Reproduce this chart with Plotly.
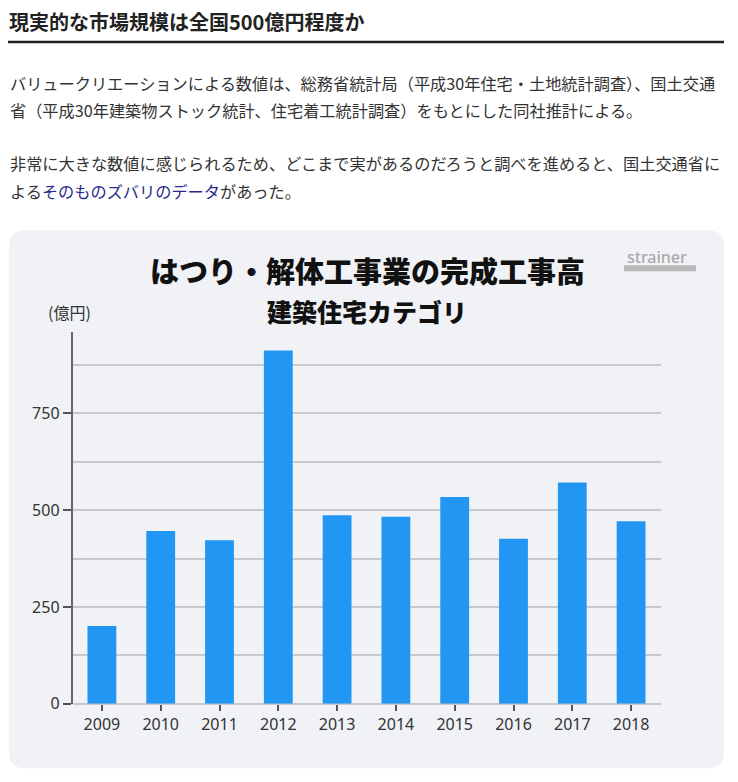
import plotly.graph_objects as go

# the page body adds an 8px margin round the figure; coordinates below are
# page pixels, mapped through px()/py()
OFF = 8
W, H = 738 - OFF, 774
VSCALE = 0.984  # the photographed page comes out slightly squeezed vertically

years = ["2009", "2010", "2011", "2012", "2013", "2014", "2015", "2016", "2017", "2018"]
values = [201, 446, 422, 912, 487, 483, 534, 426, 571, 471]
y_ticks = [0, 250, 500, 750]

heading = "現実的な市場規模は全国500億円程度か"
para_lines = [
    "バリュークリエーションによる数値は、総務省統計局（平成30年住宅・土地統計調査）、国土交通",
    "省（平成30年建築物ストック統計、住宅着工統計調査）をもとにした同社推計による。",
    "非常に大きな数値に感じられるため、どこまで実があるのだろうと調べを進めると、国土交通省に",
    "よる<span style='color:#2a2a8c'>そのものズバリのデータ</span>があった。",
]
chart_title = "はつり・解体工事業の完成工事高"
chart_subtitle = "建築住宅カテゴリ"
unit_label = "(億円)"


def px(x):
    return (x - OFF) / W


def py(y):
    return 1 - ((y - 0.3) / VSCALE - OFF) / H


def rounded_rect(x0, y0, x1, y1, r):
    rx, ry = r / W, r / H
    a, b, c, d = px(x0), py(y0), px(x1), py(y1)
    return (
        f"M {a + rx},{b} L {c - rx},{b} Q {c},{b} {c},{b - ry} "
        f"L {c},{d + ry} Q {c},{d} {c - rx},{d} "
        f"L {a + rx},{d} Q {a},{d} {a},{d + ry} "
        f"L {a},{b - ry} Q {a},{b} {a + rx},{b} Z"
    )


jp = "Noto Sans CJK JP"

fig = go.Figure(
    go.Bar(x=years, y=values, marker_color="#2196f3", marker_line_width=0, hoverinfo="x+y")
)

shapes = [
    # chart card
    dict(type="path", xref="paper", yref="paper", path=rounded_rect(9, 230, 724, 767, 16),
         fillcolor="#f0f2f6", line_width=0, layer="below"),
    # heading underline
    dict(type="line", xref="paper", yref="paper", x0=px(8), x1=px(724), y0=py(42), y1=py(42),
         line=dict(color="#222222", width=2.5)),
    # strainer logo bar
    dict(type="rect", xref="paper", yref="paper", x0=px(624), x1=px(696), y0=py(271), y1=py(265),
         fillcolor="#b8b8b8", line_width=0),
]

annotations = [
    dict(text=heading, x=0, y=py(22), xanchor="left", yanchor="middle", borderpad=0,
         font=dict(family=jp, size=20, color="#222222", weight=700)),
    dict(text="strainer", x=px(657), y=py(257), xanchor="center", yanchor="middle",
         font=dict(family="Noto Sans", size=16, color="#a9a9a9", weight=500)),
    dict(text=chart_title, x=px(367), y=py(270), xanchor="center", yanchor="middle",
         font=dict(family=jp, size=29, color="#111111", weight=900)),
    dict(text=chart_subtitle, x=px(367), y=py(311), xanchor="center", yanchor="middle",
         font=dict(family=jp, size=25, color="#111111", weight=900)),
    dict(text=unit_label, x=px(69), y=py(312), xanchor="center", yanchor="middle",
         font=dict(family=jp, size=16, color="#333333")),
]
for line, yc in zip(para_lines, [83, 110, 163, 191]):
    annotations.append(
        dict(text=line, x=0, y=py(yc), xanchor="left", yanchor="middle",
             font=dict(family=jp, size=16.2, color="#333333"))
    )
for a in annotations:
    a.update(xref="paper", yref="paper", showarrow=False)

fig.update_layout(
    width=W, height=H,
    margin=dict(l=0, r=0, t=0, b=0),
    paper_bgcolor="white",
    plot_bgcolor="rgba(0,0,0,0)",
    showlegend=False,
    bargap=0.51,
    shapes=shapes,
    annotations=annotations,
    xaxis=dict(
        domain=[px(72.5), px(660.5)],
        type="category",
        showgrid=False, showline=False, zeroline=False,
        ticks="outside", ticklen=6, tickcolor="#555555", tickwidth=1.5,
        tickfont=dict(family="Noto Sans", size=16, color="#333333"),
    ),
    yaxis=dict(
        domain=[py(702.7), py(331.5)],
        range=[0, 960],
        tickvals=y_ticks,
        showgrid=True, gridcolor="#c8c9cd", gridwidth=1.5,
        minor=dict(dtick=125, tick0=0, showgrid=True, gridcolor="#c8c9cd", gridwidth=1.5),
        zeroline=True, zerolinecolor="#c8c9cd", zerolinewidth=1.5,
        showline=True, linecolor="#666666", linewidth=1.5,
        ticks="outside", ticklen=8, tickcolor="#555555", tickwidth=1.5,
        tickfont=dict(family="Noto Sans", size=16, color="#333333"),
    ),
)

fig.write_html("out.html")
